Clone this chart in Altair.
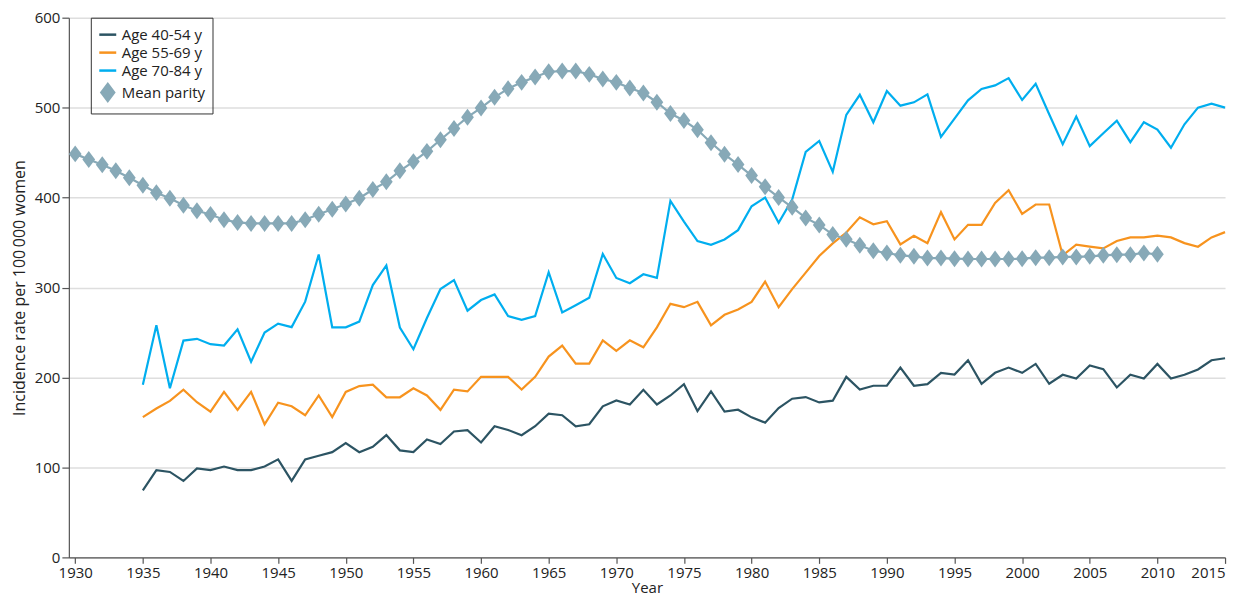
import altair as alt
import pandas as pd

# Values
years_age = list(range(1935, 2016))
years_parity = list(range(1930, 2011))

age_40_54 = [
    74.5, 97, 95, 85, 99, 97, 101, 97, 97, 101,
    109, 85, 109, 113, 117, 127, 117, 123, 136, 119,
    117, 131, 126, 140, 141.5, 127.7, 145.8, 141.7, 135.8, 145.8,
    159.8, 158, 145.8, 148, 168, 174.5, 170, 186.3, 170, 180,
    192.6, 162.7, 184.5, 162, 164.2, 155.7, 149.8, 166, 176.4, 178.2,
    172.3, 174.2, 200.7, 186.7, 190.8, 190.8, 211, 190.8, 192.6, 205.2,
    203.3, 219.2, 193, 205.2, 211, 205.2, 215.1, 193, 203, 198.9,
    213.3, 209.2, 188.9, 203, 198.9, 215.1, 198.9, 203, 208.9, 219.2,
    221.4,
]
age_55_69 = [
    156, 165.5, 174, 186.5, 172.5, 162, 184, 164, 184, 148,
    172, 168, 158, 180, 156, 184, 190.5, 192, 178, 178,
    188, 180, 164, 186.5, 184.5, 200.7, 200.7, 200.7, 186.7, 200.7,
    223.2, 235.4, 215.5, 215.5, 241.3, 229.5, 241.3, 233.6, 255.7, 281.9,
    278.2, 284.1, 257.9, 269.7, 275.6, 284.1, 306.6, 278.2, 298.2, 316.6,
    335.1, 349.1, 361.2, 378, 370.3, 373.8, 348, 357.6, 349.4, 383.8,
    353.5, 369.7, 369.7, 394.1, 408.1, 381.9, 392.3, 392.3, 335.8, 347.6,
    345.4, 343.5, 351.7, 355.7, 355.7, 357.6, 355.7, 349.4, 345.4, 355.7,
    361.6,
]
age_70_84 = [
    192, 258, 188, 241, 243, 237, 235.5, 253.5, 217.5, 249.9,
    259.9, 256, 284.3, 336.8, 255.8, 255.8, 262.1, 302.8, 324.6, 255.5,
    231.4, 266.2, 298.3, 308.3, 274.3, 286.1, 292.3, 268.3, 264.2, 268.3,
    317, 272.3, 280.4, 288.6, 337.3, 310.7, 304.8, 314.8, 310.7, 396.3,
    373.4, 351.7, 347.6, 353.5, 363.8, 390.4, 400, 372, 397.7, 450.7,
    462.9, 428.6, 492, 514.3, 483.7, 518.5, 502.2, 505.9, 514.8, 467.5,
    487.8, 508.1, 520.7, 524.7, 532.8, 508.5, 526.6, 492.6, 459.4, 490,
    457.2, 471.6, 485.6, 461.6, 483.8, 475.6, 455.4, 481.5, 500, 504.4,
    500,
]
mean_parity = [
    448.6, 442.4, 436.5, 429.8, 422, 413.7, 405.5, 399.3, 391.6, 385.3,
    381.2, 375.4, 372.4, 371.3, 371.3, 371.3, 371.3, 375.4, 381.5, 387,
    392.8, 399.3, 409, 417.5, 429.8, 440, 451.4, 464.3, 476.8, 489.4,
    499.7, 511.5, 521.1, 528.1, 534, 539.9, 540.7, 540.7, 537, 531.8,
    528.1, 521.9, 516.3, 506, 493.5, 485.7, 475.4, 461, 448.1, 436.7,
    424.5, 412, 400.2, 389.2, 377.4, 369.6, 358.9, 353.6, 347, 340.9,
    338.4, 335.8, 334.7, 332.8, 332.8, 332.1, 331.7, 331.7, 331.7, 331.7,
    332.1, 333.2, 333.2, 334, 334, 334.7, 335.8, 336.5, 336.5, 338.4,
    336.9,
]

series_names = ['Age 40-54 y', 'Age 55-69 y', 'Age 70-84 y', 'Mean parity']
series_colors = ['#2c5463', '#f7931e', '#00aeef', '#87a9b7']
diamond = 'M0,-1L0.75,0L0,1L-0.75,0Z'

frames = []
for name, values in zip(series_names[:3], [age_40_54, age_55_69, age_70_84]):
    frames.append(pd.DataFrame({'Year': years_age, 'Rate': values, 'Series': name}))
frames.append(pd.DataFrame({'Year': years_parity, 'Rate': mean_parity, 'Series': 'Mean parity'}))
data = pd.concat(frames, ignore_index=True)

FONT = 'Open Sans'

legend = alt.Legend(
    title=None, orient='none', legendX=22, legendY=0,
    strokeColor='#333', padding=7, rowPadding=0,
    labelFontSize=15, labelFont=FONT, labelColor='#222',
    labelOffset=4, symbolStrokeWidth=2.5,
)

x_enc = alt.X('Year:Q',
              scale=alt.Scale(domain=[1929.53, 2015], nice=False, zero=False),
              axis=alt.Axis(title='Year', values=list(range(1930, 2016, 5)), format='d',
                            grid=False, tickSize=6, labelPadding=2, titlePadding=0,
                            titleFontSize=15))
y_enc = alt.Y('Rate:Q',
              scale=alt.Scale(domain=[0, 600], nice=False),
              axis=alt.Axis(title='Incidence rate per 100\u2009000 women',
                            values=list(range(0, 601, 100)), tickSize=7,
                            labelPadding=2, titlePadding=7))
color_enc = alt.Color('Series:N',
                      scale=alt.Scale(domain=series_names, range=series_colors),
                      legend=legend)
shape_enc = alt.Shape('Series:N',
                      scale=alt.Scale(domain=series_names,
                                      range=['stroke', 'stroke', 'stroke', diamond]),
                      legend=legend)
size_enc = alt.Size('Series:N',
                    scale=alt.Scale(domain=series_names, range=[289, 289, 289, 80]),
                    legend=legend)

lines = alt.Chart(data).mark_line(strokeWidth=2.2).encode(
    x=x_enc, y=y_enc, color=color_enc
)

points = alt.Chart(data[data['Series'] == 'Mean parity']).mark_point(
    filled=True, opacity=1
).encode(x=x_enc, y=y_enc, color=color_enc, shape=shape_enc, size=size_enc)

chart = alt.layer(lines, points).properties(
    width=1159, height=541,
    autosize=alt.AutoSizeParams(type='none'),
    padding={'left': 61, 'top': 9, 'right': 20, 'bottom': 43},
).configure_view(stroke=None).configure_axis(
    labelFont=FONT, titleFont=FONT, labelFontSize=15, titleFontSize=16,
    labelColor='#222', titleColor='#222', titleFontWeight='normal',
    domainColor='#555', tickColor='#555', domainWidth=1.2, tickWidth=1.2,
    gridColor='#dedede', gridWidth=1.5,
)

chart.save('out.html', embed_options={'renderer': 'svg', 'actions': False})
